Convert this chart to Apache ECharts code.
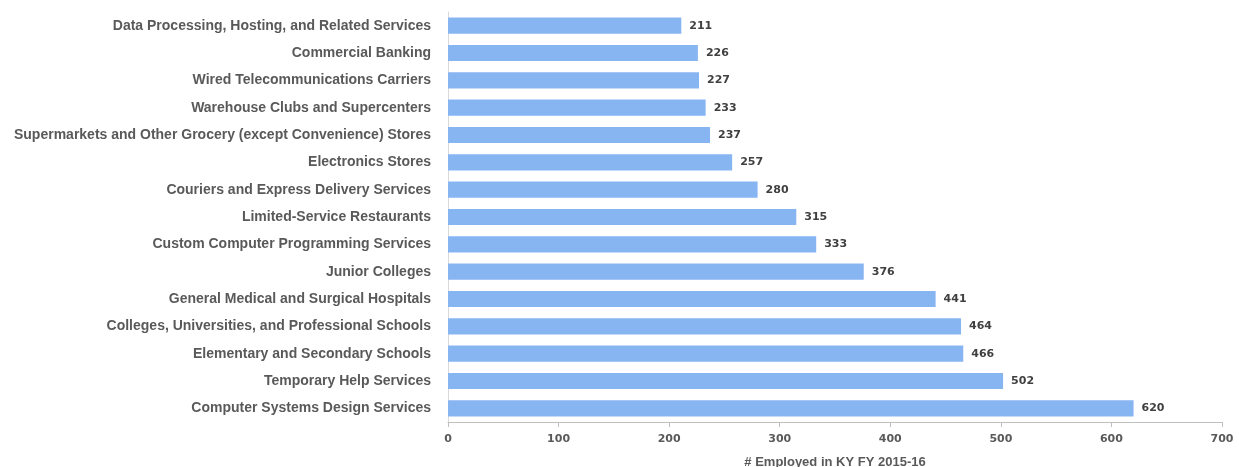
<!DOCTYPE html>
<html><head><meta charset="utf-8">
<script src="https://cdn.jsdelivr.net/npm/echarts@6/dist/echarts.min.js"></script>
<style>html,body{margin:0;padding:0;background:#fff}#c{width:1239px;height:467px}</style>
</head><body><div id="c"></div>
<script>
const categories = [
  "Data Processing, Hosting, and Related Services",
  "Commercial Banking",
  "Wired Telecommunications Carriers",
  "Warehouse Clubs and Supercenters",
  "Supermarkets and Other Grocery (except Convenience) Stores",
  "Electronics Stores",
  "Couriers and Express Delivery Services",
  "Limited-Service Restaurants",
  "Custom Computer Programming Services",
  "Junior Colleges",
  "General Medical and Surgical Hospitals",
  "Colleges, Universities, and Professional Schools",
  "Elementary and Secondary Schools",
  "Temporary Help Services",
  "Computer Systems Design Services"
];
const employed = [211, 226, 227, 233, 237, 257, 280, 315, 333, 376, 441, 464, 466, 502, 620];
const axisTitle = "# Employed in KY FY 2015-16";

const chart = echarts.init(document.getElementById('c'));
chart.setOption({
  animation: false,
  grid: { left: 448, right: 17, top: 12, bottom: 45, containLabel: false, outerBoundsMode: 'none' },
  xAxis: {
    type: 'value', min: 0, max: 700, interval: 100,
    name: axisTitle, nameLocation: 'middle', nameGap: 34,
    nameTextStyle: { fontFamily: 'Liberation Sans', fontWeight: 'bold', fontSize: 13, color: '#595959' },
    axisLine: { show: true, lineStyle: { color: '#bfbfbf' } },
    axisTick: { show: true, inside: false, length: 5, lineStyle: { color: '#bfbfbf' } },
    splitLine: { show: false },
    axisLabel: { fontFamily: 'DejaVu Sans', fontWeight: 'bold', fontSize: 11, color: '#595959', margin: 12 }
  },
  yAxis: {
    type: 'category', data: categories, inverse: true,
    axisLine: { show: true, lineStyle: { color: '#d9d9d9' } },
    axisTick: { show: false },
    axisLabel: { fontFamily: 'Liberation Sans', fontWeight: 'bold', fontSize: 14, color: '#595959', margin: 17 }
  },
  series: [{
    type: 'bar', data: employed, barCategoryGap: '41%',
    itemStyle: { color: '#87b5f2' },
    label: { show: true, position: 'right', distance: 8, fontFamily: 'DejaVu Sans', fontWeight: 'bold', fontSize: 11, color: '#404040' }
  }]
});
</script></body></html>
